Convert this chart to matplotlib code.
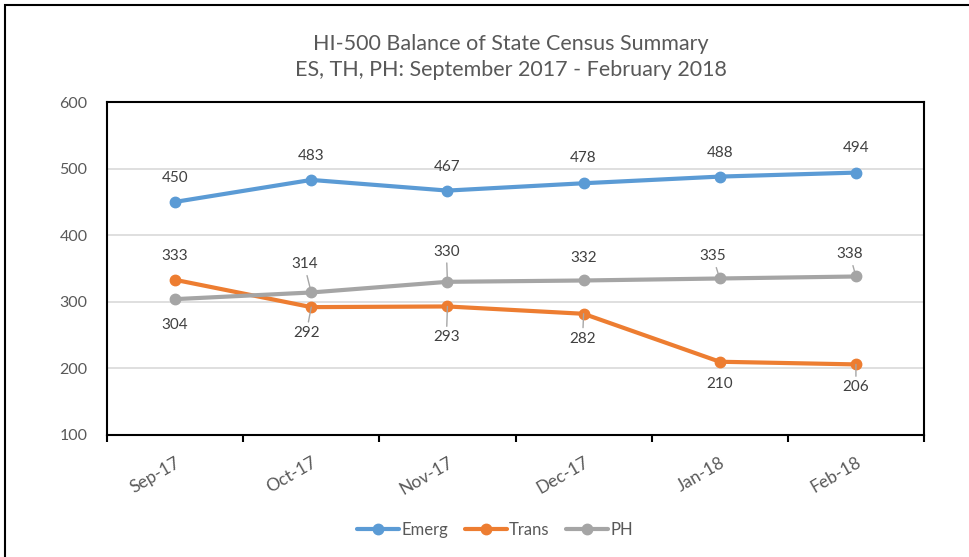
import matplotlib
matplotlib.use("Agg")
import matplotlib.pyplot as plt
from matplotlib.patches import Rectangle
from matplotlib.ticker import FixedLocator, NullFormatter

plt.rcParams['font.family'] = ['Lato', 'DejaVu Sans']

months = ["Sep-17", "Oct-17", "Nov-17", "Dec-17", "Jan-18", "Feb-18"]
emerg = [450, 483, 467, 478, 488, 494]
trans = [333, 292, 293, 282, 210, 206]
ph = [304, 314, 330, 332, 335, 338]

title = "HI-500 Balance of State Census Summary\nES, TH, PH: September 2017 - February 2018"

series = [
    ("Emerg", emerg, "#5B9BD5"),
    ("Trans", trans, "#ED7D31"),
    ("PH", ph, "#A5A5A5"),
]

# label layout: (dx px, dy px, leader line)
layouts = {
    "Emerg": [(0, 24, False), (0, 24, False), (0, 24, False), (0, 25, False), (0, 24, False), (0, 25, False)],
    "Trans": [(0, 24, False), (-5, -26, True), (-1, -31, True), (-1, -25, True), (0, -22, False), (0, -23, True)],
    "PH": [(0, -26, False), (-7, 28, True), (-1, 30, True), (0, 22, False), (-7, 22, True), (-6, 22, True)],
}

fig = plt.figure(figsize=(9.69, 5.57), dpi=100)
ax = fig.add_axes([107 / 969, 1 - 435 / 557, (924 - 107) / 969, (435 - 102) / 557])

x = list(range(len(months)))
handles = []
for name, vals, col in series:
    h, = ax.plot(x, vals, color=col, lw=3, marker='o', markersize=7.5,
                 solid_capstyle='round', label=name, zorder=3)
    handles.append(h)
    for i, v in enumerate(vals):
        dx, dy, lead = layouts[name][i]
        kw = {}
        if lead:
            kw['arrowprops'] = dict(arrowstyle='-', color='#A6A6A6', lw=1.0,
                                    shrinkA=1, shrinkB=0)
        ax.annotate(str(v), xy=(i, v), xytext=(dx, dy), textcoords='offset pixels',
                    ha='center', va='center', fontsize=11, color='#404040', zorder=4, **kw)

ax.set_xlim(-0.5, len(months) - 0.5)
ax.set_ylim(100, 600)
ax.set_yticks([100, 200, 300, 400, 500, 600])
ax.yaxis.grid(True, color='#D9D9D9', lw=1.2, zorder=0)
ax.set_axisbelow(True)
ax.tick_params(axis='y', length=0, pad=14, labelsize=11.5, labelcolor='#595959')

ax.set_xticks(x)
ax.set_xticklabels(months, rotation=30, ha='right', rotation_mode='anchor',
                   fontsize=12.5, color='#595959')
ax.tick_params(axis='x', which='major', length=0, pad=14)
ax.xaxis.set_minor_locator(FixedLocator([i - 0.5 for i in range(len(months) + 1)]))
ax.xaxis.set_minor_formatter(NullFormatter())
ax.tick_params(axis='x', which='minor', length=5, width=1.5, color='black', direction='out')
for s in ax.spines.values():
    s.set_color('black')
    s.set_linewidth(1.5)

fig.text(0.527, 1 - 57 / 557, title, ha='center', va='center', fontsize=15.5,
         color='#595959', linespacing=1.35)

fig.legend(handles=handles, loc='center', bbox_to_anchor=(0.511, 1 - 530 / 557),
           ncol=3, frameon=False, fontsize=12, handlelength=2.5, handletextpad=0.15,
           columnspacing=1.0, labelcolor='#595959')

fig.patches.append(Rectangle((5 / 969, -0.05), 1.1, 1 - 5 / 557 + 0.05,
                             transform=fig.transFigure, fill=False,
                             edgecolor='black', lw=1.5))

fig.savefig("out.png", dpi=100)
